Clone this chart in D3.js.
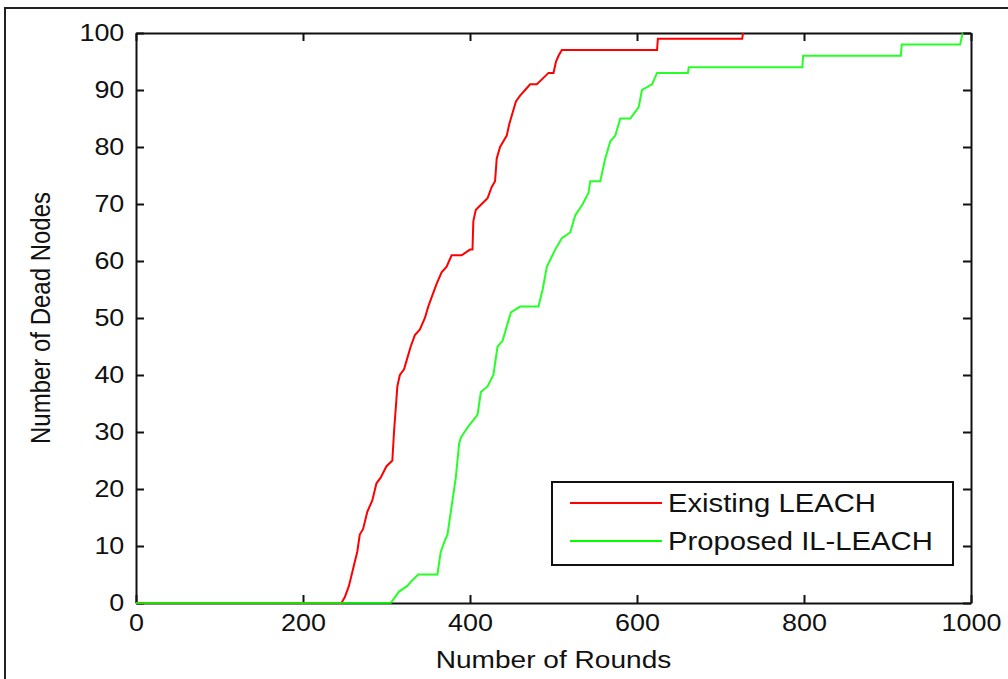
<!DOCTYPE html>
<html>
<head>
<meta charset="utf-8">
<script src="https://cdn.jsdelivr.net/npm/d3@7"></script>
<style>
  body { margin: 0; background: #fff; }
  text { font-family: "Liberation Sans", Arial, sans-serif; fill: #111; }
  .axis path, .axis line { stroke: #111; stroke-width: 2; }
</style>
</head>
<body>
<div id="chart"></div>
<script>

// data (rounds, dead nodes)
const existingRounds = [0, 246, 250, 255, 260, 265, 268, 272, 277, 283, 288, 293, 300, 307, 309, 311, 313, 316, 321, 325, 329, 334, 340, 346, 350, 355, 360, 366, 372, 378, 390, 400, 403, 404, 407, 414, 421, 426, 430, 432, 436, 440, 444, 447, 451, 455, 460, 466, 472, 480, 487, 494, 500, 503, 506, 510, 624, 625, 726, 727];
const existingDead   = [0, 0, 1, 3, 6, 9, 12, 13, 16, 18, 21, 22, 24, 25, 30, 34, 38, 40, 41, 43, 45, 47, 48, 50, 52, 54, 56, 58, 59, 61, 61, 62, 62, 67, 69, 70, 71, 73, 74, 78, 80, 81, 82, 84, 86, 88, 89, 90, 91, 91, 92, 93, 93, 95, 96, 97, 97, 99, 99, 100];

const proposedRounds = [0, 305, 310, 315, 325, 331, 338, 361, 365, 370, 373, 377, 383, 387, 389, 398, 409, 413, 421, 428, 433, 439, 449, 460, 482, 487, 492, 502, 510, 520, 526, 535, 542, 544, 556, 562, 568, 574, 580, 592, 602, 606, 618, 624, 640, 661, 662, 798, 799, 916, 917, 987, 990];
const proposedDead   = [0, 0, 1, 2, 3, 4, 5, 5, 9, 11, 12, 16, 22, 28, 29, 31, 33, 37, 38, 40, 45, 46, 51, 52, 52, 55, 59, 62, 64, 65, 68, 70, 72, 74, 74, 78, 81, 82, 85, 85, 87, 90, 91, 93, 93, 93, 94, 94, 96, 96, 98, 98, 100];

const xTicks = [0, 200, 400, 600, 800, 1000];
const yTicks = [0, 10, 20, 30, 40, 50, 60, 70, 80, 90, 100];

const seriesNames = ["Existing LEACH", "Proposed IL-LEACH"];
const seriesColors = ["#ff0000", "#00ff00"];

const W = 1008, H = 679;
const margin = { top: 33, right: 37, bottom: 76, left: 136 };
const width = W - margin.left - margin.right;
const height = H - margin.top - margin.bottom;
const stretch = 1.17; // the figure is a bit wider than tall

const svg = d3.select("#chart").append("svg")
  .attr("width", W)
  .attr("height", H);

// outer frame of the figure
svg.append("rect")
  .attr("x", 5).attr("y", 8)
  .attr("width", W + 10).attr("height", H + 10)
  .attr("fill", "none")
  .attr("stroke", "#222")
  .attr("stroke-width", 2);

const g = svg.append("g")
  .attr("transform", "translate(" + margin.left + "," + margin.top + ")");

const x = d3.scaleLinear().domain([0, 1000]).range([0, width]);
const y = d3.scaleLinear().domain([0, 100]).range([height, 0]);

// axes, ticks inside like matlab
g.append("g")
  .attr("class", "axis")
  .attr("transform", "translate(0," + height + ")")
  .call(d3.axisBottom(x).tickValues(xTicks).tickFormat(d3.format("d")).tickSizeInner(-8).tickSizeOuter(0).tickPadding(12))
  .selectAll("text")
  .style("font-size", "23px")
  .attr("transform", "scale(" + stretch + ",1)");

g.append("g")
  .attr("class", "axis")
  .call(d3.axisLeft(y).tickValues(yTicks).tickFormat(d3.format("d")).tickSizeInner(-8).tickSizeOuter(0).tickPadding(10))
  .selectAll("text")
  .style("font-size", "23px")
  .attr("transform", "scale(" + stretch + ",1)");

g.append("g")
  .attr("class", "axis")
  .call(d3.axisTop(x).tickValues(xTicks).tickSizeInner(-8).tickSizeOuter(0).tickFormat(""));

g.append("g")
  .attr("class", "axis")
  .attr("transform", "translate(" + width + ",0)")
  .call(d3.axisRight(y).tickValues(yTicks).tickSizeInner(-8).tickSizeOuter(0).tickFormat(""));

g.selectAll(".domain").attr("stroke-width", 2);

// lines
const line = d3.line()
  .x(d => x(d[0]))
  .y(d => y(d[1]));

const series = [
  d3.zip(existingRounds, existingDead),
  d3.zip(proposedRounds, proposedDead)
];

series.forEach((dta, idx) => {
  g.append("path")
    .datum(dta)
    .attr("fill", "none")
    .attr("stroke", seriesColors[idx])
    .attr("stroke-width", 2)
    .attr("stroke-opacity", idx == 1 ? 0.85 : 1)
    .attr("d", line);
});

// axis titles
svg.append("text")
  .attr("transform", "translate(" + (margin.left + width / 2) + "," + 668 + ") scale(" + stretch + ",1)")
  .attr("text-anchor", "middle")
  .style("font-size", "24px")
  .text("Number of Rounds");

svg.append("text")
  .attr("transform", "translate(" + 50 + "," + (margin.top + height / 2) + ") scale(" + stretch + ",1) rotate(-90)")
  .attr("text-anchor", "middle")
  .style("font-size", "24px")
  .text("Number of Dead Nodes");

// legend
const legend = svg.append("g").attr("transform", "translate(552,482)");

legend.append("rect")
  .attr("width", 401).attr("height", 83)
  .attr("fill", "#fff")
  .attr("stroke", "#111")
  .attr("stroke-width", 2);

seriesNames.forEach((name, i) => {
  const ly = 21 + i * 38;
  legend.append("line")
    .attr("x1", 18).attr("x2", 110)
    .attr("y1", ly).attr("y2", ly)
    .attr("stroke", seriesColors[i])
    .attr("stroke-width", 2);
  legend.append("text")
    .attr("transform", "translate(116," + (ly + 9) + ") scale(" + stretch + ",1)")
    .style("font-size", "25px")
    .text(name);
});

</script>
</body>
</html>
